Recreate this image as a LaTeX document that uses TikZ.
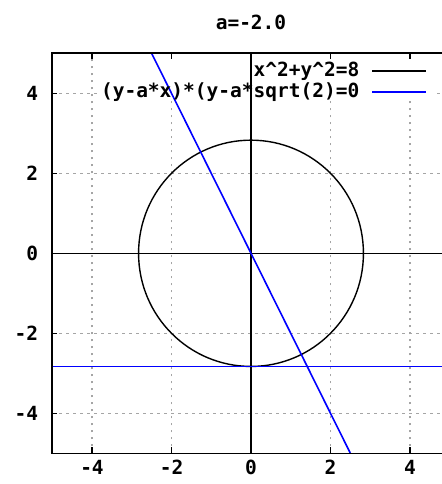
\documentclass[tikz,border=0pt]{standalone}
\usepackage{fontspec}
\setmonofont{DejaVu Sans Mono}
\begin{document}
\begin{tikzpicture}[x=39.75pt,y=40pt,
  gridline/.style={draw={rgb,255:red,165;green,165;blue,165},line width=1.2pt,dash pattern=on 2.5pt off 4.5pt},
  axisline/.style={draw=black,line width=1.4pt},
  borderline/.style={draw=black,line width=1.6pt},
  tickmark/.style={draw=black,line width=1.4pt},
  curveblack/.style={draw=black,line width=1.4pt},
  curveblue/.style={draw={rgb,255:red,0;green,0;blue,255},line width=1.6pt},
  lbl/.style={inner sep=0pt,font=\fontsize{19.5}{20}\selectfont\ttfamily\bfseries}]
\useasboundingbox[fill=white] (-6.3145,-5.7675) rectangle (4.7799,6.3325);
% plot corners
\coordinate (BL) at (-5,-5);
\coordinate (TR) at (5,5);
% grid
\foreach \v in {-4,-2,2,4} {
  \draw[gridline] (\v,-5) -- (\v,5);
  \draw[gridline] (-5,\v) -- (5,\v);
}
% key background
\fill[white] (-3.88,4.99) rectangle (4.6,3.82);
% axes
\draw[axisline] (-5,0) -- (5,0);
\draw[axisline] (0,-5) -- (0,5);
\begin{scope}
\clip (BL) rectangle (TR);
\draw[curveblack] (0,0) circle[radius=2.8284];
\draw[curveblue] (-2.5,5) -- (2.5,-5);
\draw[curveblue] (-5,-2.8284) -- (5,-2.8284);
\end{scope}
% key
\node[lbl,anchor=east] (k1) at (2.73,4.56) {x\^{}2+y\^{}2=8};
\node[lbl,anchor=east] (k2) at (2.73,4.03) {(y-a*x)*(y-a*sqrt(2)=0};
\coordinate (s1a) at (3.044,4.56); \coordinate (s1b) at (4.403,4.56);
\coordinate (s2a) at (3.044,4.03); \coordinate (s2b) at (4.403,4.03);
\draw[curveblack] (s1a) -- (s1b);
\draw[curveblue] (s2a) -- (s2b);
% border
\draw[borderline] (BL) rectangle (TR);
% ticks and labels
\foreach \v in {-4,-2,0,2,4} {
  \draw[tickmark] (\v,-5) -- (\v,-4.85);
  \draw[tickmark] (\v,5) -- (\v,4.85);
  \draw[tickmark] (-5,\v) -- (-4.87,\v);
  \node[lbl] at (\v,-5.36) {\v};
  \node[lbl,anchor=east] at (-5.35,\v) {\v};
}
% title
\node[lbl] (title) at (0,5.76) {a=-2.0};
\end{tikzpicture}
\end{document}
